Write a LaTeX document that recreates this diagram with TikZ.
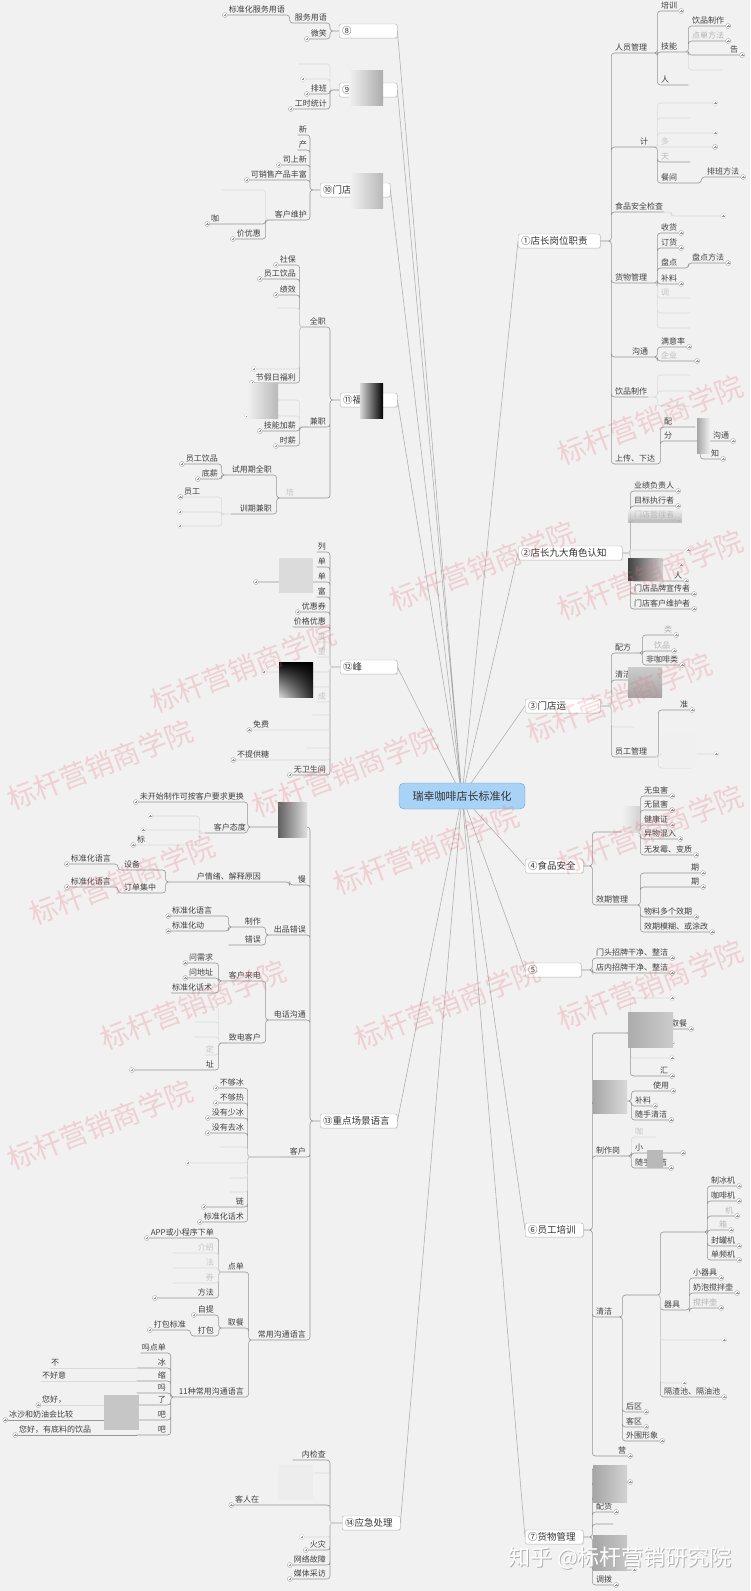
\documentclass[tikz,border=0pt]{standalone}
\usepackage{fontspec}
\setmainfont{Noto Sans CJK SC}
\usetikzlibrary{positioning, shadows, shadings}

\definecolor{bgc}{RGB}{241,241,241}
\definecolor{rootfill}{RGB}{168,210,246}
\definecolor{rootline}{RGB}{112,160,212}
\definecolor{lnc}{RGB}{150,150,150}
\definecolor{wmk}{RGB}{232,110,120}

\newcommand\leaffont{\fontsize{8}{9}\selectfont}
\newcommand\topfont{\fontsize{9.5}{11}\selectfont}
\newcommand\rootfont{\fontsize{11}{13}\selectfont}
\newcommand\wmfont{\fontsize{28}{30}\selectfont}

\pgfdeclarelayer{bg}
\pgfdeclarelayer{back}
\pgfdeclarelayer{front}
\pgfsetlayers{bg,back,main,front}

\begin{document}
\begin{tikzpicture}[
    x=1pt, y=-1pt,
    ln/.style={draw=lnc, line width=0.6pt, rounded corners=3pt},
    lnf/.style={draw=lnc!35, line width=0.6pt, rounded corners=3pt},
    rad/.style={draw=lnc!85, line width=0.5pt},
    rootnode/.style={draw=rootline, fill=rootfill, rounded corners=5pt, font=\rootfont, minimum width=126pt, minimum height=26pt, text=black!80},
    mn/.style={draw=gray!60, fill=white, rounded corners=2pt, font=\topfont, inner xsep=3pt, inner ysep=2pt, minimum height=14pt, text=black!80, drop shadow={opacity=0.15, shadow xshift=0.8pt, shadow yshift=-0.8pt}},
    lf/.style={font=\leaffont, inner xsep=1pt, inner ysep=1.5pt, text=black!75},
    fnt/.style={lf, text=gray!45},
    pls/.style={circle, draw=gray!70, fill=white, inner sep=0pt, minimum size=5pt, line width=0.4pt,
        path picture={\draw[gray!80, line width=0.4pt] (path picture bounding box.center) +(-1.4pt,0) -- +(1.4pt,0)
            (path picture bounding box.center) +(0,-1.4pt) -- +(0,1.4pt);}},
    lfl/.style={lf, append after command={(\tikzlastnode.south west) node[pls, anchor=east] {}}},
    lfr/.style={lf, append after command={(\tikzlastnode.south east) node[pls, anchor=west] {}}},
    fz/.style={lf, minimum width=#1},
    fzl/.style={fz=#1, append after command={(\tikzlastnode.south west) node[pls, draw=gray!35, anchor=east] {}}},
    fzr/.style={fz=#1, append after command={(\tikzlastnode.south east) node[pls, draw=gray!35, anchor=west] {}}},
    wl/.style={text width=#1, align=left},
    wr/.style={text width=#1, align=right},
    ae/.style={anchor=south east},
    aw/.style={anchor=south west},
    wm/.style={text=wmk, opacity=0.25, font=\wmfont, rotate=21}
]

\useasboundingbox (0,0) rectangle (750,1591);
\begin{pgfonlayer}{bg}
    \fill[bgc] (0,0) rectangle (750,1591);
\end{pgfonlayer}

% Root
\node[rootnode] (root) at (462,796) {瑞幸咖啡店长标准化};

% ---------- left side ----------
% 8
\node[mn, anchor=west, wl=52pt] (m8) at (339,31) {⑧};
\node[lf, ae] (fwyy) at (328,23) {服务用语};
\node[lfl, ae] (wx) at (328,39) {微笑};
\node[lfl, ae] (bzfw) at (286,15) {标准化服务用语};
\draw[ln] (m8.west) -- ++(-9,0) |- (fwyy.south west)
          (m8.west) -- ++(-9,0) |- (wx.south west);
\draw[ln] (fwyy.south west) -- ++(-4,0) |- (bzfw.south west);

% 9
\node[mn, anchor=west, wl=52pt] (m9) at (339,90) {⑨};
\node[fz=30pt, ae] (g9a) at (328,64) {};
\node[fzl=22pt, ae] (g9b) at (328,79) {};
\node[lfl, ae] (pb) at (328,94) {排班};
\node[lfl, ae] (gstj) at (328,109) {工时统计};
\draw[lnf] (m9.west) -- ++(-9,0) |- (g9a.south west)
           (m9.west) -- ++(-9,0) |- (g9b.south west);
\draw[ln] (m9.west) -- ++(-9,0) |- (pb.south west)
          (m9.west) -- ++(-9,0) |- (gstj.south west);
\shade[left color=bgc, right color=gray!65] (349,70) rectangle (383,105);

% 10
\node[mn, anchor=west, wl=64pt] (m10) at (320,190) {⑩门店业};
\node[lf, ae] (xin) at (308,135) {新};
\node[lf, ae] (chan) at (308,150) {产};
\node[lfl, ae] (ssx) at (308,165) {司上新};
\node[lfl, ae] (kxs) at (308,180) {可销售产品丰富};
\node[lf, ae] (khwh) at (308,220) {客户维护};
\node[fz=40pt, ae] (kh1) at (262,190) {};
\node[lfl, aw] (kh2) at (210,224) {咖};
\node[lfl, ae] (kh3) at (262,239) {价优惠};
\draw[ln] (m10.west) -- ++(-10,0) |- (xin.south west)
          (m10.west) -- ++(-10,0) |- (chan.south west)
          (m10.west) -- ++(-10,0) |- (ssx.south west)
          (m10.west) -- ++(-10,0) |- (kxs.south west)
          (m10.west) -- ++(-10,0) |- (khwh.south west);
\draw[lnf] (khwh.south west) -- ++(-8,0) |- (kh1.south west);
\draw[ln] (khwh.south west) -- ++(-8,0) |- (kh2.south west)
          (khwh.south west) -- ++(-8,0) |- (kh3.south west);
\shade[left color=bgc, right color=gray!55] (350,173) rectangle (383,208);

% 11
\node[mn, anchor=west, wl=51pt] (m11) at (340,400) {⑪福利};
\node[lf, ae] (qz) at (327,327) {全职};
\node[lf, ae] (jz) at (327,427) {兼职};
\node[fnt, ae, wl=40pt] (pxq) at (327,498) {培};
\draw[ln] (m11.west) -- ++(-10,0) |- (qz.south west)
          (m11.west) -- ++(-10,0) |- (jz.south west)
          (m11.west) -- ++(-10,0) |- (pxq.south west);
\node[lfl, ae] (sb) at (297,265) {社保};
\node[lfl, ae] (ygyp) at (297,279) {员工饮品};
\node[lfl, ae] (jx) at (297,295) {绩效};
\node[fz=20pt, ae] (qz4) at (297,308) {};
\node[fzl=40pt, ae] (qz5) at (297,369) {};
\node[lfl, ae] (jjr) at (297,383) {节假日福利};
\draw[ln] (qz.south west) -- ++(-9,0) |- (sb.south west)
          (qz.south west) -- ++(-9,0) |- (ygyp.south west)
          (qz.south west) -- ++(-9,0) |- (jx.south west)
          (qz.south west) -- ++(-9,0) |- (jjr.south west);
\draw[lnf] (qz.south west) -- ++(-9,0) |- (qz4.south west)
           (qz.south west) -- ++(-9,0) |- (qz5.south west);
\node[fz=20pt, ae] (jz1) at (297,400) {};
\node[fzl=47pt, ae] (jz2) at (297,416) {};
\node[lfl, ae] (jnjx) at (297,431) {技能加薪};
\node[lfl, ae] (sx) at (297,446) {时薪};
\draw[lnf] (jz.south west) -- ++(-9,0) |- (jz1.south west)
           (jz.south west) -- ++(-9,0) |- (jz2.south west);
\draw[ln] (jz.south west) -- ++(-9,0) |- (jnjx.south west)
          (jz.south west) -- ++(-9,0) |- (sx.south west);
\node[lf, ae] (syq) at (273,475) {试用期全职};
\node[lf, ae, wr=40pt] (xqj) at (273,514) {训期兼职};
\draw[ln] (pxq.south west) -- ++(-8,0) |- (syq.south west)
          (pxq.south west) -- ++(-8,0) |- (xqj.south west);
\node[lfl, ae] (yg2) at (219,464) {员工饮品};
\node[lfl, ae] (dx) at (219,479) {底薪};
\node[lfl, aw, wl=34pt] (yg3) at (183,497) {员工};
\node[fzl=36pt, ae] (xf1) at (219,512) {};
\node[fzl=36pt, ae] (xf2) at (219,526) {};
\draw[ln] (syq.south west) -- ++(-9,0) |- (yg2.south west)
          (syq.south west) -- ++(-9,0) |- (dx.south west);
\draw[lnf] (xqj.south west) -- ++(-9,0) |- (yg3.south west)
           (xqj.south west) -- ++(-9,0) |- (xf1.south west)
           (xqj.south west) -- ++(-9,0) |- (xf2.south west);
\shade[left color=bgc, right color=gray!55] (247,383) rectangle (278,418);
\shade[left color=gray!30, right color=black] (360,383) rectangle (383,418);

% 12
\node[mn, anchor=west, wl=51pt] (m12) at (340,667) {⑫峰};
\node[lf, ae] (f1) at (327,552) {列};
\node[lf, ae] (f2) at (327,567) {单};
\node[lfl, ae, wr=66pt] (f3) at (327,582) {单};
\node[lf, ae] (f4) at (327,597) {富};
\node[lfl, ae] (f5) at (327,612) {优惠券};
\node[lf, ae] (f6) at (327,627) {价格优惠};
\node[fnt, ae] (f7) at (327,642) {度};
\node[fnt, ae] (f8) at (327,657) {望};
\node[fzl=60pt, ae] (f9) at (327,672) {};
\node[fz=15pt, ae] (f10) at (327,687) {};
\node[fnt, ae] (f11) at (327,702) {成};
\node[fz=15pt, ae] (f12) at (327,715) {};
\node[lfl, aw] (f13) at (252,730) {免费};
\node[fz=20pt, ae] (f14) at (327,748) {};
\node[lfl, aw] (f15) at (236,760) {不提供糖};
\node[lfl, ae] (f16) at (327,775) {无卫生间};
\draw[ln] (m12.west) -- ++(-10,0) |- (f1.south west)
          (m12.west) -- ++(-10,0) |- (f2.south west)
          (m12.west) -- ++(-10,0) |- (f3.south west)
          (m12.west) -- ++(-10,0) |- (f4.south west)
          (m12.west) -- ++(-10,0) |- (f5.south west)
          (m12.west) -- ++(-10,0) |- (f6.south west)
          (m12.west) -- ++(-10,0) |- (f16.south west);
\draw[lnf] (m12.west) -- ++(-10,0) |- (f7.south west)
           (m12.west) -- ++(-10,0) |- (f8.south west)
           (m12.west) -- ++(-10,0) |- (f9.south west)
           (m12.west) -- ++(-10,0) |- (f10.south west)
           (m12.west) -- ++(-10,0) |- (f11.south west)
           (m12.west) -- ++(-10,0) |- (f12.south west)
           (m12.west) -- ++(-10,0) |- (f13.south west)
           (m12.west) -- ++(-10,0) |- (f14.south west)
           (m12.west) -- ++(-10,0) |- (f15.south west);
\fill[gray!28] (279,558) rectangle (313,593);
\shade[upper left=black, upper right=black, lower right=black!85, lower left=gray!30] (279,662) rectangle (313,697);

% 13
\node[mn, anchor=west, wl=71pt] (m13) at (320,1121) {⑬重点场景语言};
\node[lf, ae, wr=26pt] (cw) at (307,827) {错误};
\node[lf, ae] (man) at (307,885) {慢};
\node[lf, ae] (cpcw) at (307,935) {出品错误};
\node[lf, ae] (dhgt) at (307,1020) {电话沟通};
\node[lf, ae, wr=24pt] (khc) at (307,1157) {客户};
\node[lf, ae] (cygt) at (307,1340) {常用沟通语言};
\draw[ln] (m13.west) -- ++(-10,0) |- (cw.south west)
          (m13.west) -- ++(-10,0) |- (man.south west)
          (m13.west) -- ++(-10,0) |- (cpcw.south west)
          (m13.west) -- ++(-10,0) |- (dhgt.south west)
          (m13.west) -- ++(-10,0) |- (khc.south west)
          (m13.west) -- ++(-10,0) |- (cygt.south west);
\shade[left color=gray!75!black, right color=gray!25] (278,802) rectangle (307,837);
% errors
\node[lfl, ae] (wks) at (245,802) {未开始制作可按客户要求更换};
\node[lf, ae, wr=40pt] (khtd) at (247,833) {客户态度};
\draw[ln] (cw.south west) -- ++(-31,0) |- (wks.south west)
          (cw.south west) -- ++(-31,0) |- (khtd.south west);
\node[fzl=40pt, aw] (td1) at (153,816) {};
\node[fzl=45pt, aw] (td2) at (146,830) {};
\node[lfl, aw, wl=50pt] (td3) at (136,845) {标};
\draw[lnf] (khtd.south west) -- ++(-5,0) |- (td1.south west)
           (khtd.south west) -- ++(-5,0) |- (td2.south west)
           (khtd.south west) -- ++(-5,0) |- (td3.south west);
% slow
\node[lf, ae, wr=80pt] (qx) at (262,882) {户情绪、解释原因};
\draw[ln] (man.south west) -- ++(-7,0) |- (qx.south west);
\node[lf, aw] (sb2) at (123,870) {设备};
\node[lf, aw] (ddjz) at (123,893) {订单集中};
\draw[ln] (qx.south west) -- ++(-14,0) |- (sb2.south west)
          (qx.south west) -- ++(-14,0) |- (ddjz.south west);
\node[lfl, ae] (bz1) at (112,864) {标准化语言};
\node[lfl, ae] (bz2) at (112,887) {标准化语言};
\draw[ln] (sb2.south west) -- ++(-5,0) |- (bz1.south west);
\draw[ln] (ddjz.south west) -- ++(-5,0) |- (bz2.south west);
% wrong product
\node[lf, ae, wr=28pt] (zz) at (262,927) {制作};
\node[lf, ae, wr=31pt] (cw2) at (262,945) {错误};
\draw[ln] (cpcw.south west) -- ++(-7,0) |- (zz.south west)
          (cpcw.south west) -- ++(-7,0) |- (cw2.south west);
\node[lfl, aw] (bz3) at (171,916) {标准化语言};
\node[lfl, aw] (bz4) at (171,931) {标准化动};
\draw[ln] (zz.south west) -- ++(-3,0) |- (bz3.south west)
          (zz.south west) -- ++(-3,0) |- (bz4.south west);
% phone
\node[lf, ae] (khld) at (262,981) {客户来电};
\node[lf, ae] (zdkh) at (262,1043) {致电客户};
\draw[ln] (dhgt.south west) -- ++(-7,0) |- (khld.south west)
          (dhgt.south west) -- ++(-7,0) |- (zdkh.south west);
\node[lfl, aw] (wxq) at (188,963) {问需求};
\node[lfl, aw] (wdz) at (188,978) {问地址};
\node[lf, aw] (bzhs) at (171,993) {标准化话术};
\draw[ln] (khld.south west) -- ++(-9,0) |- (wxq.south west)
          (khld.south west) -- ++(-9,0) |- (wdz.south west)
          (khld.south west) -- ++(-9,0) |- (bzhs.south west);
\node[fz=20pt, ae] (zd1) at (215,1007) {};
\node[fz=20pt, ae] (zd2) at (215,1022) {};
\node[fz=20pt, ae] (zd3) at (215,1037) {};
\node[fnt, ae] (zd4) at (215,1055) {定};
\node[lfl, ae, wr=78pt] (zd5) at (215,1070) {址};
\draw[lnf] (zdkh.south west) -- ++(-9,0) |- (zd1.south west)
           (zdkh.south west) -- ++(-9,0) |- (zd2.south west)
           (zdkh.south west) -- ++(-9,0) |- (zd3.south west)
           (zdkh.south west) -- ++(-9,0) |- (zd4.south west);
\draw[ln] (zdkh.south west) -- ++(-9,0) |- (zd5.south west);
% customers
\node[lfl, ae] (bgb) at (245,1088) {不够冰};
\node[lfl, ae] (bgr) at (245,1103) {不够热};
\node[lfl, ae] (mysb) at (245,1118) {没有少冰};
\node[lfl, ae] (myqb) at (245,1133) {没有去冰};
\node[fz=25pt, ae] (kf1) at (245,1147) {};
\node[fzl=54pt, ae] (kf2) at (245,1163) {};
\node[fz=15pt, ae] (kf3) at (245,1178) {};
\node[fz=15pt, ae] (kf4) at (245,1192) {};
\node[lfl, ae, wr=36pt] (lian) at (245,1207) {链};
\node[lfl, ae] (bzh2) at (245,1222) {标准化话术};
\draw[ln] (khc.south west) -- ++(-33,0) |- (bgb.south west)
          (khc.south west) -- ++(-33,0) |- (bgr.south west)
          (khc.south west) -- ++(-33,0) |- (mysb.south west)
          (khc.south west) -- ++(-33,0) |- (myqb.south west)
          (khc.south west) -- ++(-33,0) |- (lian.south west)
          (khc.south west) -- ++(-33,0) |- (bzh2.south west);
\draw[lnf] (khc.south west) -- ++(-33,0) |- (kf1.south west)
           (khc.south west) -- ++(-33,0) |- (kf2.south west)
           (khc.south west) -- ++(-33,0) |- (kf3.south west)
           (khc.south west) -- ++(-33,0) |- (kf4.south west);
% daily talk
\node[lf, ae] (dd) at (245,1272) {点单};
\node[lf, ae] (qc) at (245,1328) {取餐};
\node[lf, ae] (syz) at (245,1397) {11种常用沟通语言};
\draw[ln] (cygt.south west) -- ++(-8,0) |- (dd.south west)
          (cygt.south west) -- ++(-8,0) |- (qc.south west)
          (cygt.south west) -- ++(-8,0) |- (syz.south west);
\node[lfl, ae] (app) at (215,1238) {APP或小程序下单};
\node[fnt, ae, wr=40pt] (dd2) at (215,1253) {介绍};
\node[fnt, ae, wr=40pt] (dd3) at (215,1268) {法};
\node[fnt, ae, wr=40pt] (dd4) at (215,1283) {券};
\node[lfl, ae, wr=55pt] (dd5) at (215,1298) {方法};
\draw[ln] (dd.south west) -- ++(-8,0) |- (app.south west)
          (dd.south west) -- ++(-8,0) |- (dd5.south west);
\draw[lnf] (dd.south west) -- ++(-8,0) |- (dd2.south west)
           (dd.south west) -- ++(-8,0) |- (dd3.south west)
           (dd.south west) -- ++(-8,0) |- (dd4.south west);
\node[lfl, ae] (zt) at (215,1315) {自提};
\node[lf, ae] (dbo) at (215,1336) {打包};
\node[lfl, ae] (dbbz) at (187,1330) {打包标准};
\draw[ln] (qc.south west) -- ++(-8,0) |- (zt.south west)
          (qc.south west) -- ++(-8,0) |- (dbo.south west);
\draw[ln] (dbo.south west) -- ++(-6,0) |- (dbbz.south west);
\node[lf, ae] (i1) at (167,1353) {吗点单};
\node[lf, ae, wr=28pt] (i2) at (167,1368) {冰};
\node[lf, ae, wr=28pt] (i3) at (167,1381) {缩};
\node[lf, ae, wr=28pt] (i4) at (167,1393) {吗};
\node[lf, ae, wr=28pt] (i5) at (167,1405) {了};
\node[lf, ae, wr=28pt] (i6) at (167,1420) {吧};
\node[lf, ae, wr=28pt] (i7) at (167,1435) {吧};
\draw[ln] (syz.south west) -- ++(-7,0) |- (i1.south west)
          (syz.south west) -- ++(-7,0) |- (i2.south west)
          (syz.south west) -- ++(-7,0) |- (i3.south west)
          (syz.south west) -- ++(-7,0) |- (i4.south west)
          (syz.south west) -- ++(-7,0) |- (i5.south west)
          (syz.south west) -- ++(-7,0) |- (i6.south west)
          (syz.south west) -- ++(-7,0) |- (i7.south west);
\node[lf, aw] (g2) at (50,1368) {不};
\node[lf, aw] (g3) at (41,1381) {不好意};
\node[lfl, aw] (g5) at (41,1405) {您好，};
\node[lfl, aw] (g6) at (8,1420) {冰沙和奶油会比较};
\node[lfl, aw] (g7) at (18,1435) {您好，有底料的饮品};
\draw[lnf] (i2.south west) -- (g2.south west)
           (i3.south west) -- (g3.south west)
           (i5.south west) -- (g5.south west);
\draw[ln] (i6.south west) -- (g6.south west)
          (i7.south west) -- (g7.south west);
\fill[gray!45] (104,1395) rectangle (139,1430);

% 14
\node[mn, anchor=west, wl=52pt] (m14) at (342,1523) {⑭应急处理};
\node[lf, ae, wr=32pt] (njc) at (327,1460) {内检查};
\node[fz=12pt, ae] (yj2) at (327,1473) {};
\node[lfl, aw] (krz) at (234,1505) {客人在};
\node[fzl=22pt, ae] (yj3) at (327,1537) {};
\node[lfl, ae] (hz) at (327,1550) {火灾};
\node[lfl, ae] (wlgz) at (327,1565) {网络故障};
\node[lfl, ae] (mtcf) at (327,1579) {媒体采访};
\draw[ln] (m14.west) -- ++(-12,0) |- (njc.south west)
          (m14.west) -- ++(-12,0) |- (krz.south west)
          (m14.west) -- ++(-12,0) |- (hz.south west)
          (m14.west) -- ++(-12,0) |- (wlgz.south west)
          (m14.west) -- ++(-12,0) |- (mtcf.south west);
\draw[lnf] (m14.west) -- ++(-12,0) |- (yj2.south west)
           (m14.west) -- ++(-12,0) |- (yj3.south west);
\fill[gray!14] (278,1465) rectangle (313,1500);

% ---------- right side ----------
% 1
\node[mn, anchor=west, wl=76pt] (m1) at (518,241) {①店长岗位职责};
\node[lf, aw] (rygl) at (614,53) {人员管理};
\node[lf, aw, wr=33pt] (tj) at (614,147) {计};
\node[lf, aw] (spaq) at (614,212) {食品安全检查};
\node[lf, aw] (hwgl) at (614,283) {货物管理};
\node[lf, aw, wr=33pt] (gt) at (614,357) {沟通};
\node[lf, aw] (ypzz) at (614,397) {饮品制作};
\node[lf, aw] (scxd) at (614,464) {上传、下达};
\draw[ln] (m1.east) -- ++(11,0) |- (rygl.south east)
          (m1.east) -- ++(11,0) |- (tj.south east)
          (m1.east) -- ++(11,0) |- (spaq.south east)
          (m1.east) -- ++(11,0) |- (hwgl.south east)
          (m1.east) -- ++(11,0) |- (gt.south east)
          (m1.east) -- ++(11,0) |- (ypzz.south east)
          (m1.east) -- ++(11,0) |- (scxd.south east);
\node[lfr, aw] (pxr) at (660,11) {培训};
\node[lf, aw] (jn) at (660,52) {技能};
\node[lf, aw, wl=26pt] (ren) at (660,85) {人};
\draw[ln] (rygl.south east) -- ++(9,0) |- (pxr.south east)
          (rygl.south east) -- ++(9,0) |- (jn.south east)
          (rygl.south east) -- ++(9,0) |- (ren.south east);
\node[lfr, aw] (ypzz2) at (691,26) {饮品制作};
\node[lfr, aw, text=gray!60] (ddff) at (691,41) {点单方法};
\node[lfr, aw, wr=46pt] (gao) at (691,55) {告};
\node[fz=30pt, aw] (jn4) at (691,70) {};
\draw[ln] (jn.south east) -- ++(10,0) |- (ypzz2.south east)
          (jn.south east) -- ++(10,0) |- (ddff.south east)
          (jn.south east) -- ++(10,0) |- (gao.south east);
\draw[lnf] (jn.south east) -- ++(10,0) |- (jn4.south east);
\node[fzr=52pt, aw] (tj1) at (660,103) {};
\node[fz=30pt, aw] (tj2) at (660,118) {};
\node[fzr=52pt, aw] (tj3) at (660,133) {};
\node[lfr, aw, wl=50pt, text=gray!45] (tj4) at (660,147) {多};
\node[lf, aw, wl=28pt, text=gray!55] (tj5) at (660,162) {天};
\node[lf, aw, wl=33pt] (cj) at (660,183) {餐间};
\draw[lnf] (tj.south east) -- ++(8,0) |- (tj1.south east)
           (tj.south east) -- ++(8,0) |- (tj2.south east)
           (tj.south east) -- ++(8,0) |- (tj3.south east)
           (tj.south east) -- ++(8,0) |- (tj4.south east);
\draw[ln] (tj.south east) -- ++(8,0) |- (tj5.south east)
          (tj.south east) -- ++(8,0) |- (cj.south east);
\node[lfr, aw] (pbff) at (706,177) {排班方法};
\draw[ln] (cj.south east) -- ++(6,0) |- (pbff.south east);
\node[fzr=44pt, aw] (sp1) at (676,216) {};
\draw[lnf] (spaq.south east) -- ++(7,0) |- (sp1.south east);
\node[lfr, aw] (shh) at (660,233) {收货};
\node[lfr, aw] (dhh) at (660,248) {订货};
\node[lf, aw] (pdd) at (660,268) {盘点};
\node[lfr, aw] (bll) at (660,284) {补料};
\node[fnt, aw, wl=28pt] (tiao) at (660,298) {调};
\node[fz=30pt, aw] (hf1) at (660,313) {};
\node[fz=30pt, aw] (hf2) at (660,328) {};
\draw[ln] (hwgl.south east) -- ++(9,0) |- (shh.south east)
          (hwgl.south east) -- ++(9,0) |- (dhh.south east)
          (hwgl.south east) -- ++(9,0) |- (pdd.south east)
          (hwgl.south east) -- ++(9,0) |- (bll.south east);
\draw[lnf] (hwgl.south east) -- ++(9,0) |- (tiao.south east)
           (hwgl.south east) -- ++(9,0) |- (hf1.south east)
           (hwgl.south east) -- ++(9,0) |- (hf2.south east);
\node[lfr, aw] (pdff) at (691,263) {盘点方法};
\draw[ln] (pdd.south east) -- ++(10,0) |- (pdff.south east);
\node[lfr, aw] (myl) at (660,347) {满意率};
\node[lfr, aw, wl=32pt, text=gray!55] (qyy) at (660,361) {企业};
\draw[ln] (gt.south east) -- ++(8,0) |- (myl.south east)
          (gt.south east) -- ++(8,0) |- (qyy.south east);
\node[fz=30pt, aw] (yf1) at (660,375) {};
\node[fz=30pt, aw] (yf2) at (660,391) {};
\node[fz=30pt, aw] (yf3) at (660,406) {};
\draw[lnf] (ypzz.south east) -- ++(9,0) |- (yf1.south east)
           (ypzz.south east) -- ++(9,0) |- (yf2.south east)
           (ypzz.south east) -- ++(9,0) |- (yf3.south east);
\node[lf, aw, wl=30pt] (pei) at (663,427) {配};
\node[lf, aw, wl=30pt] (fen) at (663,441) {分};
\draw[ln] (scxd.south east) -- ++(4,0) |- (pei.south east)
          (scxd.south east) -- ++(4,0) |- (fen.south east);
\node[lfr, aw, wr=24pt] (gt2) at (704,441) {沟通};
\node[lfr, aw, wr=14pt] (zhi) at (704,459) {知};
\draw[ln] (fen.south east) -- ++(5,0) |- (gt2.south east)
          (fen.south east) -- ++(5,0) |- (zhi.south east);
\shade[left color=gray!70, right color=bgc] (697,418) rectangle (710,453);

% 2
\node[mn, anchor=west, wl=98pt] (m2) at (518,553) {②店长九大角色认知};
\node[lfr, aw] (yjfz) at (633,491) {业绩负责人};
\node[lfr, aw] (mbzx) at (633,506) {目标执行者};
\node[lfr, aw] (mdgl) at (633,520) {门店管理者};
\node[fzr=52pt, aw] (js1) at (633,550) {};
\node[fzr=45pt, aw] (js2) at (633,565) {};
\node[lfr, aw, wr=48pt] (js3) at (633,581) {人};
\node[lfr, aw] (ppxc) at (633,594) {门店品牌宣传者};
\node[lfr, aw] (khwz) at (633,609) {门店客户维护者};
\draw[ln] (m2.east) -- ++(8,0) |- (yjfz.south east)
          (m2.east) -- ++(8,0) |- (mbzx.south east)
          (m2.east) -- ++(8,0) |- (mdgl.south east)
          (m2.east) -- ++(8,0) |- (js3.south east)
          (m2.east) -- ++(8,0) |- (ppxc.south east)
          (m2.east) -- ++(8,0) |- (khwz.south east);
\draw[lnf] (m2.east) -- ++(8,0) |- (js1.south east)
           (m2.east) -- ++(8,0) |- (js2.south east);
\shade[top color=bgc, bottom color=gray!60, opacity=0.8] (628,509) rectangle (682,522);
\shade[left color=black!75, right color=gray!35] (628,558) rectangle (663,580);

% 3
\node[mn, anchor=west, wl=69pt] (m3) at (525,706) {③门店运};
\node[lf, aw] (pf) at (614,653) {配方};
\node[lf, aw] (qj3) at (614,680) {清洁};
\node[fz=20pt, aw] (yy1) at (614,693) {};
\node[fz=20pt, aw] (yy2) at (614,727) {};
\node[lf, aw] (yggl) at (614,757) {员工管理};
\draw[ln] (m3.east) -- ++(11,0) |- (pf.south east)
          (m3.east) -- ++(11,0) |- (qj3.south east)
          (m3.east) -- ++(11,0) |- (yggl.south east);
\draw[lnf] (m3.east) -- ++(11,0) |- (yy1.south east)
           (m3.east) -- ++(11,0) |- (yy2.south east);
\node[lfr, aw, wr=26pt, text=gray!60] (pf1) at (645,635) {类};
\node[lfr, aw, wr=24pt, text=gray!60] (pf2) at (645,651) {饮品};
\node[lfr, aw] (fkf) at (645,665) {非咖啡类};
\draw[ln] (pf.south east) -- ++(10,0) |- (pf1.south east)
          (pf.south east) -- ++(10,0) |- (pf2.south east)
          (pf.south east) -- ++(10,0) |- (fkf.south east);
\node[lfr, aw, wr=26pt] (yg1) at (661,710) {准};
\node[fzr=52pt, aw] (yg2b) at (661,754) {};
\node[fz=30pt, aw] (yg3b) at (661,768) {};
\draw[ln] (yggl.south east) -- ++(10,0) |- (yg1.south east);
\draw[lnf] (yggl.south east) -- ++(10,0) |- (yg2b.south east)
           (yggl.south east) -- ++(10,0) |- (yg3b.south east);
\shade[top color=gray!40, bottom color=gray!70] (628,667) rectangle (662,697);
\fill[gray!12] (662,733) rectangle (697,768);

% 4
\node[mn, anchor=west, wl=52pt] (m4) at (525,866) {④食品安全};
\node[fz=40pt, aw] (wsh0) at (595,832) {};
\node[lf, aw] (xqgl) at (595,905) {效期管理};
\draw[ln] (m4.east) -- ++(9,0) |- (wsh0.south east)
          (m4.east) -- ++(9,0) |- (xqgl.south east);
\node[lfr, aw] (wch) at (643,796) {无虫害};
\node[lfr, aw] (wsh) at (643,810) {无鼠害};
\node[lfr, aw] (jkz) at (643,825) {健康证};
\node[lfr, aw] (ywhr) at (643,839) {异物混入};
\node[lfr, aw] (wfm) at (643,855) {无发霉、变质};
\draw[ln] (wsh0.south east) -- ++(5,0) |- (wch.south east)
          (wsh0.south east) -- ++(5,0) |- (wsh.south east)
          (wsh0.south east) -- ++(5,0) |- (jkz.south east)
          (wsh0.south east) -- ++(5,0) |- (ywhr.south east)
          (wsh0.south east) -- ++(5,0) |- (wfm.south east);
\node[lfr, aw, wr=55pt] (xq1) at (643,873) {期};
\node[lfr, aw, wr=55pt] (xq2) at (643,887) {期};
\node[lfr, aw] (xq3) at (643,917) {物料多个效期};
\node[lfr, aw] (xq4) at (643,932) {效期模糊、或涂改};
\draw[ln] (xqgl.south east) -- ++(11,0) |- (xq1.south east)
          (xqgl.south east) -- ++(11,0) |- (xq2.south east)
          (xqgl.south east) -- ++(11,0) |- (xq3.south east)
          (xqgl.south east) -- ++(11,0) |- (xq4.south east);
\shade[left color=bgc, right color=gray!35] (622,806) rectangle (640,832);

% 5
\node[mn, anchor=west, wl=50pt] (m5) at (525,970) {⑤};
\node[lfr, aw] (mtzp) at (595,958) {门头招牌干净、整洁};
\node[lfr, aw] (dnzp) at (595,973) {店内招牌干净、整洁};
\draw[ln] (m5.east) -- ++(11,0) |- (mtzp.south east)
          (m5.east) -- ++(11,0) |- (dnzp.south east);

% 6
\node[mn, anchor=west, wl=52pt] (m6) at (525,1230) {⑥员工培训};
\node[fz=30pt, aw] (c6a) at (595,1033) {};
\node[lf, aw, wr=30pt] (c6b) at (595,1101) {岗};
\node[lf, aw] (zzg) at (595,1156) {制作岗};
\node[lf, aw] (qj6) at (595,1317) {清洁};
\node[lfr, aw, wr=30pt] (yin) at (595,1456) {营};
\draw[ln] (m6.east) -- ++(9,0) |- (c6a.south east)
          (m6.east) -- ++(9,0) |- (c6b.south east)
          (m6.east) -- ++(9,0) |- (zzg.south east)
          (m6.east) -- ++(9,0) |- (qj6.south east)
          (m6.east) -- ++(9,0) |- (yin.south east);
\node[fzr=36pt, aw] (a1) at (633,998) {};
\node[lfr, aw, wr=53pt] (qc2) at (633,1029) {取餐};
\node[fzr=36pt, aw] (a3) at (633,1043) {};
\node[fzr=36pt, aw] (a4) at (633,1058) {};
\node[lfr, aw, wr=34pt] (a5) at (633,1076) {汇};
\draw[lnf] (c6a.south east) -- ++(5,0) |- (a1.south east)
           (c6a.south east) -- ++(5,0) |- (a3.south east)
           (c6a.south east) -- ++(5,0) |- (a4.south east);
\draw[ln] (c6a.south east) -- ++(5,0) |- (qc2.south east)
          (c6a.south east) -- ++(5,0) |- (a5.south east);
\node[lfr, aw, wr=34pt] (syy) at (634,1091) {使用};
\node[lfr, aw] (bl2) at (634,1106) {补料};
\node[lfr, aw] (sq1) at (634,1120) {随手清洁};
\draw[ln] (c6b.south east) -- ++(4,0) |- (syy.south east)
          (c6b.south east) -- ++(4,0) |- (bl2.south east)
          (c6b.south east) -- ++(4,0) |- (sq1.south east);
\node[fnt, aw, wl=20pt] (zz1) at (634,1137) {咖};
\node[lfr, aw, wl=44pt] (zz2) at (634,1153) {小};
\node[lfr, aw] (sq2) at (634,1168) {随手清洁};
\draw[lnf] (zzg.south east) -- ++(10,0) |- (zz1.south east);
\draw[ln] (zzg.south east) -- ++(10,0) |- (zz2.south east)
          (zzg.south east) -- ++(10,0) |- (sq2.south east);
\node[fz=30pt, aw] (qja) at (625,1295) {};
\node[lfr, aw] (hq) at (625,1412) {后区};
\node[lfr, aw] (kq) at (625,1427) {客区};
\node[lfr, aw] (wwxx) at (625,1441) {外围形象};
\draw[ln] (qj6.south east) -- ++(9,0) |- (qja.south east)
          (qj6.south east) -- ++(9,0) |- (hq.south east)
          (qj6.south east) -- ++(9,0) |- (kq.south east)
          (qj6.south east) -- ++(9,0) |- (wwxx.south east);
\node[fz=40pt, aw] (sbj) at (663,1232) {};
\node[lf, aw] (qjju) at (663,1310) {器具};
\node[fzr=58pt, aw] (qf3) at (663,1340) {};
\node[fzr=18pt, aw] (qf4) at (663,1383) {};
\node[lfr, aw] (gzc) at (663,1397) {隔渣池、隔油池};
\draw[ln] (qja.south east) -- ++(5,0) |- (sbj.south east)
          (qja.south east) -- ++(5,0) |- (qjju.south east)
          (qja.south east) -- ++(5,0) |- (gzc.south east);
\draw[lnf] (qja.south east) -- ++(5,0) |- (qf3.south east)
           (qja.south east) -- ++(5,0) |- (qf4.south east);
\node[lfr, aw] (zbj) at (710,1186) {制冰机};
\node[lfr, aw] (kfj) at (710,1201) {咖啡机};
\node[lfr, aw, wr=22pt, text=gray!55] (jj3) at (710,1216) {机};
\node[lfr, aw, wr=16pt, text=gray!55] (xiang) at (710,1230) {箱};
\node[lfr, aw] (fgj) at (710,1246) {封罐机};
\node[lfr, aw] (dpj) at (710,1260) {单频机};
\draw[ln] (sbj.south east) -- ++(4,0) |- (zbj.south east)
          (sbj.south east) -- ++(4,0) |- (kfj.south east)
          (sbj.south east) -- ++(4,0) |- (jj3.south east)
          (sbj.south east) -- ++(4,0) |- (xiang.south east)
          (sbj.south east) -- ++(4,0) |- (fgj.south east)
          (sbj.south east) -- ++(4,0) |- (dpj.south east);
\node[lfr, aw] (xqj2) at (692,1278) {小器具};
\node[lfr, aw] (npj) at (692,1293) {奶泡搅拌壶};
\node[lfr, aw, text=gray!60] (jbh) at (692,1308) {搅拌壶};
\draw[ln] (qjju.south east) -- ++(8,0) |- (xqj2.south east)
          (qjju.south east) -- ++(8,0) |- (npj.south east)
          (qjju.south east) -- ++(8,0) |- (jbh.south east);
\shade[left color=gray!65, right color=gray!40] (628,1012) rectangle (673,1047);
\shade[left color=gray!70, right color=gray!30] (593,1080) rectangle (627,1113);
\fill[gray!55] (647,1150) rectangle (663,1168);

% 7
\node[mn, anchor=west, wl=52pt] (m7) at (525,1537) {⑦货物管理};
\node[fz=30pt, aw] (h1) at (595,1467) {};
\node[lfr, aw, wr=30pt] (shz) at (595,1482) {损耗};
\node[fzr=18pt, aw] (h3) at (595,1497) {};
\node[lfr, aw] (phh) at (595,1512) {配货};
\node[fz=18pt, aw] (h5) at (595,1524) {};
\node[fzr=36pt, aw] (h6) at (595,1570) {};
\node[lfr, aw] (dbh) at (595,1585) {调拨};
\draw[ln] (m7.east) -- ++(9,0) |- (h1.south east)
          (m7.east) -- ++(9,0) |- (shz.south east)
          (m7.east) -- ++(9,0) |- (h3.south east)
          (m7.east) -- ++(9,0) |- (phh.south east)
          (m7.east) -- ++(9,0) |- (h5.south east)
          (m7.east) -- ++(9,0) |- (h6.south east)
          (m7.east) -- ++(9,0) |- (dbh.south east);
\shade[left color=gray!70, right color=gray!35] (593,1465) rectangle (627,1502);
\shade[left color=gray!70, right color=gray!45] (593,1535) rectangle (627,1570);

% Spokes
\begin{pgfonlayer}{back}
    \draw[rad] (root.center) -- (m8.east) (root.center) -- (m9.east)
               (root.center) -- (m10.east) (root.center) -- (m11.east)
               (root.center) -- (m12.east) (root.center) -- (m13.east)
               (root.center) -- (m14.east);
    \draw[rad] (root.center) -- (m1.west) (root.center) -- (m2.west)
               (root.center) -- (m3.west) (root.center) -- (m4.west)
               (root.center) -- (m5.west) (root.center) -- (m6.west)
               (root.center) -- (m7.west);
\end{pgfonlayer}

% Watermarks
\begin{pgfonlayer}{front}
    \node[wm] (wm1) at (482,566) {标杆营销商学院};
    \node[wm] (wm2) at (243,668) {标杆营销商学院};
    \node[wm] (wm3) at (100,765) {标杆营销商学院};
    \node[wm] (wm4) at (345,772) {标杆营销商学院};
    \node[wm] (wm5) at (619,698) {标杆营销商学院};
    \node[wm] (wm6) at (122,880) {标杆营销商学院};
    \node[wm] (wm7) at (426,850) {标杆营销商学院};
    \node[wm] (wm8) at (650,830) {标杆营销商学院};
    \node[wm] (wm9) at (193,1005) {标杆营销商学院};
    \node[wm] (wm10) at (447,1005) {标杆营销商学院};
    \node[wm] (wm11) at (650,985) {标杆营销商学院};
    \node[wm] (wm12) at (650,420) {标杆营销商学院};
    \node[wm] (wm13) at (650,575) {标杆营销商学院};
    \node[wm] (wm14) at (100,1125) {标杆营销商学院};
    \node[font=\fontsize{22}{24}\selectfont, text=gray!60] (zh0) at (621,1559) {知乎 @标杆营销研究院};
    \node[font=\fontsize{22}{24}\selectfont, text=white] (zh1) at (620,1558) {知乎 @标杆营销研究院};
\end{pgfonlayer}

\end{tikzpicture}
\end{document}
